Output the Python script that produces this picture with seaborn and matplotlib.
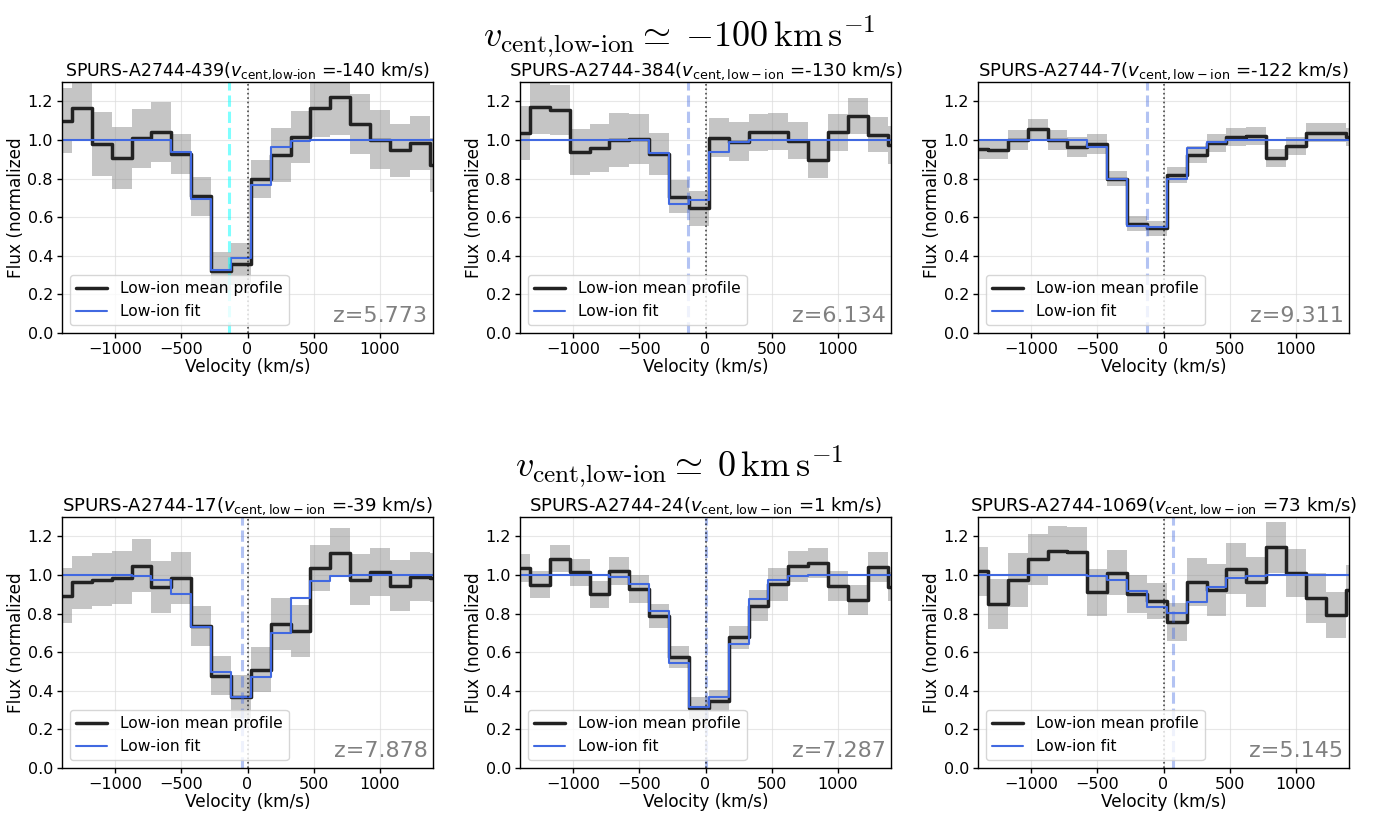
import numpy as np
import pandas as pd
import matplotlib
matplotlib.use("Agg")
import matplotlib.pyplot as plt
import seaborn as sns

# Velocity bin centres (km/s), shared by every stacked profile
velocity = [-1400, -1250, -1100, -950, -800, -650, -500, -350, -200, -50,
            100, 250, 400, 550, 700, 850, 1000, 1150, 1300, 1450]

names = ["SPURS-A2744-439", "SPURS-A2744-384", "SPURS-A2744-7",
         "SPURS-A2744-17", "SPURS-A2744-24", "SPURS-A2744-1069"]
v_cent = [-140, -130, -122, -39, 1, 73]
redshift = ["5.773", "6.134", "9.311", "7.878", "7.287", "5.145"]

flux_439 = [1.10, 1.167, 0.978, 0.907, 1.009, 1.041, 0.928, 0.707, 0.322, 0.357,
            0.797, 0.924, 1.016, 1.167, 1.224, 1.081, 1.000, 0.947, 0.984, 0.871]
err_439 = [0.17, 0.17, 0.167, 0.16, 0.153, 0.157, 0.105, 0.103, 0.10, 0.11,
           0.10, 0.14, 0.135, 0.15, 0.20, 0.155, 0.153, 0.138, 0.142, 0.14]
fit_439 = [1.0, 1.0, 1.0, 1.0, 1.0, 1.0, 0.94, 0.695, 0.328, 0.388,
           0.764, 0.962, 0.997, 1.0, 1.0, 1.0, 1.0, 1.0, 1.0, 1.0]

flux_384 = [1.038, 1.173, 1.154, 0.939, 0.960, 1.0, 1.003, 0.926, 0.706, 0.645,
            1.012, 0.991, 1.04, 1.043, 0.997, 0.898, 1.04, 1.123, 1.028, 0.974]
err_384 = [0.14, 0.14, 0.128, 0.12, 0.125, 0.14, 0.13, 0.11, 0.087, 0.089,
           0.10, 0.10, 0.095, 0.095, 0.097, 0.095, 0.095, 0.093, 0.093, 0.10]
fit_384 = [1.0, 1.0, 1.0, 1.0, 1.0, 1.0, 1.0, 0.931, 0.666, 0.687,
           0.94, 0.991, 1.0, 1.0, 1.0, 1.0, 1.0, 1.0, 1.0, 1.0]

flux_7 = [0.953, 0.95, 1.0, 1.057, 1.0, 0.964, 0.979, 0.799, 0.567, 0.542,
          0.818, 0.922, 0.984, 1.017, 1.019, 0.907, 0.969, 1.038, 1.038, 1.017]
err_7 = [0.05, 0.05, 0.05, 0.05, 0.05, 0.05, 0.05, 0.04, 0.037, 0.04,
         0.04, 0.044, 0.045, 0.047, 0.047, 0.046, 0.048, 0.048, 0.05, 0.047]
fit_7 = [1.0, 1.0, 1.0, 1.0, 1.0, 1.0, 0.964, 0.799, 0.555, 0.55,
         0.796, 0.96, 0.991, 1.0, 1.0, 1.0, 1.0, 1.0, 1.0, 1.0]

flux_17 = [0.893, 0.962, 0.976, 0.986, 1.048, 0.939, 0.983, 0.734, 0.479, 0.370,
           0.51, 0.747, 0.709, 1.035, 1.116, 0.976, 1.017, 0.945, 0.991, 0.986]
err_17 = [0.143, 0.137, 0.135, 0.138, 0.137, 0.135, 0.135, 0.104, 0.10, 0.11,
          0.118, 0.134, 0.134, 0.118, 0.127, 0.13, 0.125, 0.13, 0.128, 0.125]
fit_17 = [1.0, 1.0, 1.0, 1.0, 0.996, 0.976, 0.90, 0.73, 0.497, 0.367,
          0.471, 0.699, 0.882, 0.971, 0.995, 1.0, 1.0, 1.0, 1.0, 1.0]

flux_24 = [1.036, 0.95, 1.085, 1.014, 0.901, 1.021, 0.927, 0.789, 0.574, 0.313,
           0.348, 0.678, 0.841, 0.952, 1.045, 1.061, 0.941, 0.87, 1.043, 0.939]
err_24 = [0.073, 0.07, 0.068, 0.07, 0.07, 0.072, 0.072, 0.062, 0.058, 0.057,
          0.056, 0.06, 0.08, 0.085, 0.08, 0.077, 0.077, 0.08, 0.078, 0.075]
fit_24 = [1.0, 1.0, 1.0, 1.0, 1.0, 0.991, 0.952, 0.815, 0.545, 0.315,
          0.367, 0.64, 0.874, 0.972, 0.993, 0.998, 1.0, 1.0, 1.0, 1.0]

flux_1069 = [1.019, 0.849, 0.974, 1.08, 1.125, 1.12, 0.91, 1.012, 0.901, 0.863,
             0.756, 0.965, 0.924, 1.033, 0.964, 1.144, 1.01, 0.88, 0.791, 0.92]
err_1069 = [0.128, 0.13, 0.14, 0.132, 0.13, 0.127, 0.122, 0.115, 0.10, 0.093,
            0.098, 0.124, 0.135, 0.133, 0.128, 0.132, 0.126, 0.13, 0.118, 0.13]
fit_1069 = [1.0, 1.0, 1.0, 1.0, 1.0, 1.0, 0.995, 0.974, 0.915, 0.834,
            0.803, 0.862, 0.938, 0.983, 0.997, 1.0, 1.0, 1.0, 1.0, 1.0]

fluxes = [flux_439, flux_384, flux_7, flux_17, flux_24, flux_1069]
errors = [err_439, err_384, err_7, err_17, err_24, err_1069]
fits = [fit_439, fit_384, fit_7, fit_17, fit_24, fit_1069]

sns.set_style("ticks")
plt.rcParams.update({
    "font.family": ["DejaVu Sans"],
    "text.color": "black",
    "axes.labelcolor": "black",
    "xtick.color": "black",
    "ytick.color": "black",
})

fig = plt.figure(figsize=(13.75, 8.13), dpi=100)

W, H = 1375.0, 813.0
col_left = [62, 520, 978]
row_top = [82, 517]
ax_w, ax_h = 371, 251

for i in range(6):
    r, c = divmod(i, 3)
    ax = fig.add_axes([col_left[c] / W, 1 - (row_top[r] + ax_h) / H,
                       ax_w / W, ax_h / H])
    df = pd.DataFrame({"velocity": velocity, "flux": fluxes[i],
                       "err": errors[i], "fit": fits[i]})
    lo = df["flux"] - df["err"]
    hi = df["flux"] + df["err"]
    ax.fill_between(df["velocity"], lo, hi, step="mid", color="gray",
                    alpha=0.45, lw=0)
    sns.lineplot(data=df, x="velocity", y="flux", ax=ax, drawstyle="steps-mid",
                 color="#222222", lw=2.5, label="Low-ion mean profile")
    sns.lineplot(data=df, x="velocity", y="fit", ax=ax, drawstyle="steps-mid",
                 color="royalblue", lw=1.5, label="Low-ion fit")
    if i == 0:
        ax.axvline(v_cent[i], color="cyan", ls="--", lw=2.2, alpha=0.5)
        sub = r"$v_{\text{cent,low-ion}}$"
        title_size = 12.5
    else:
        ax.axvline(v_cent[i], color="royalblue", ls="--", lw=2.2, alpha=0.4)
        sub = r"$v_{\rm cent,low-ion}$"
        title_size = 13.1
    ax.axvline(0, color="black", ls=":", lw=1.2, alpha=0.7)
    ax.set_title(f"{names[i]}({sub} ={v_cent[i]} km/s)", fontsize=title_size,
                 pad=4)
    ax.set_xlim(-1400, 1400)
    ax.set_ylim(0, 1.3)
    ax.set_yticks(np.arange(0, 1.21, 0.2))
    ax.set_xticks([-1000, -500, 0, 500, 1000])
    ax.grid(True, color="#dddddd", lw=0.8, alpha=0.7)
    ax.tick_params(labelsize=11.5, length=3.5, width=1, pad=3, color="black")
    for s in ax.spines.values():
        s.set_color("black")
        s.set_linewidth(1.0)
    ax.set_xlabel("Velocity (km/s)", fontsize=12.2, labelpad=1)
    ax.set_ylabel("Flux (normalized", fontsize=12.2, labelpad=2)
    ax.legend(loc="lower left", fontsize=11.2)
    ax.text(0.985, 0.045, "z=" + redshift[i], transform=ax.transAxes,
            ha="right", va="baseline", color="gray", fontsize=16)

fig.text(0.494, 1 - 47 / H,
         r"$v_{\text{cent,low-ion}} \simeq\;{-}100\,\mathrm{km\,s^{-1}}$",
         ha="center", va="baseline", fontsize=26, math_fontfamily="cm")
fig.text(0.494, 1 - 477 / H,
         r"$v_{\text{cent,low-ion}} \simeq\;0\,\mathrm{km\,s^{-1}}$",
         ha="center", va="baseline", fontsize=26, math_fontfamily="cm")

fig.savefig("out.png", dpi=100)
